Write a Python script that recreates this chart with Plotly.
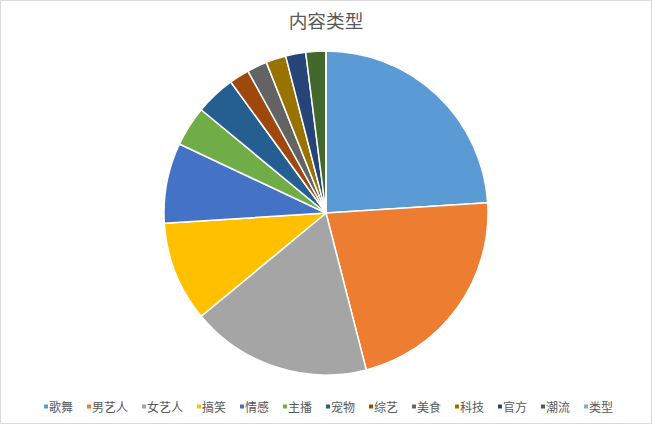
import plotly.graph_objects as go

categories = ["歌舞", "男艺人", "女艺人", "搞笑", "情感", "主播", "宠物", "综艺", "美食", "科技", "官方", "潮流", "类型"]
values = [24, 22, 18, 10, 8, 4, 4, 2, 2, 2, 2, 2, 0]
colors = ["#5B9BD5", "#ED7D31", "#A5A5A5", "#FFC000", "#4472C4", "#70AD47",
          "#255E91", "#9E480E", "#636363", "#997300", "#264478", "#43682B", "#7CAFDD"]
title_text = "内容类型"

W, H = 652, 424
T, B = 51, 49
PH = H - T - B


def px_x(x):
    return x / W


def px_y(y):
    return (H - B - y) / PH


fig = go.Figure(go.Pie(
    labels=categories,
    values=values,
    sort=False,
    direction="clockwise",
    rotation=0,
    textinfo="none",
    hoverinfo="label+value+percent",
    marker=dict(colors=colors, line=dict(color="white", width=1.5)),
    showlegend=False,
))

# custom compact legend (Excel style)
shapes = []
annotations = []
x = 44.0
for cat, col in zip(categories, colors):
    shapes.append(dict(type="rect", xref="paper", yref="paper",
                       x0=px_x(x), x1=px_x(x + 4), y0=px_y(408.5), y1=px_y(404.5),
                       fillcolor=col, line=dict(width=0)))
    annotations.append(dict(text=cat, xref="paper", yref="paper",
                            x=px_x(x + 3), y=px_y(406.5), xanchor="left", yanchor="middle",
                            showarrow=False, font=dict(size=12, color="#595959")))
    x += 5 + 12 * len(cat) + 14

# outer frame
shapes.append(dict(type="rect", xref="paper", yref="paper",
                   x0=px_x(0.5), x1=px_x(W - 0.5), y0=px_y(H - 0.5), y1=px_y(0.5),
                   line=dict(color="#D9D9D9", width=1), fillcolor="rgba(0,0,0,0)"))

fig.update_layout(
    width=W, height=H,
    margin=dict(l=0, r=0, t=T, b=B),
    paper_bgcolor="white",
    plot_bgcolor="white",
    font=dict(family="Noto Sans CJK SC, sans-serif", color="#595959"),
    title=dict(text=title_text, x=0.5, xanchor="center", y=1 - 21.5 / H, yanchor="middle",
               font=dict(size=18.7, color="#595959")),
    shapes=shapes,
    annotations=annotations,
)

fig.write_html("out.html",
               config={"displayModeBar": False},
               post_script="document.body.style.margin='0';document.body.style.overflow='hidden';")
